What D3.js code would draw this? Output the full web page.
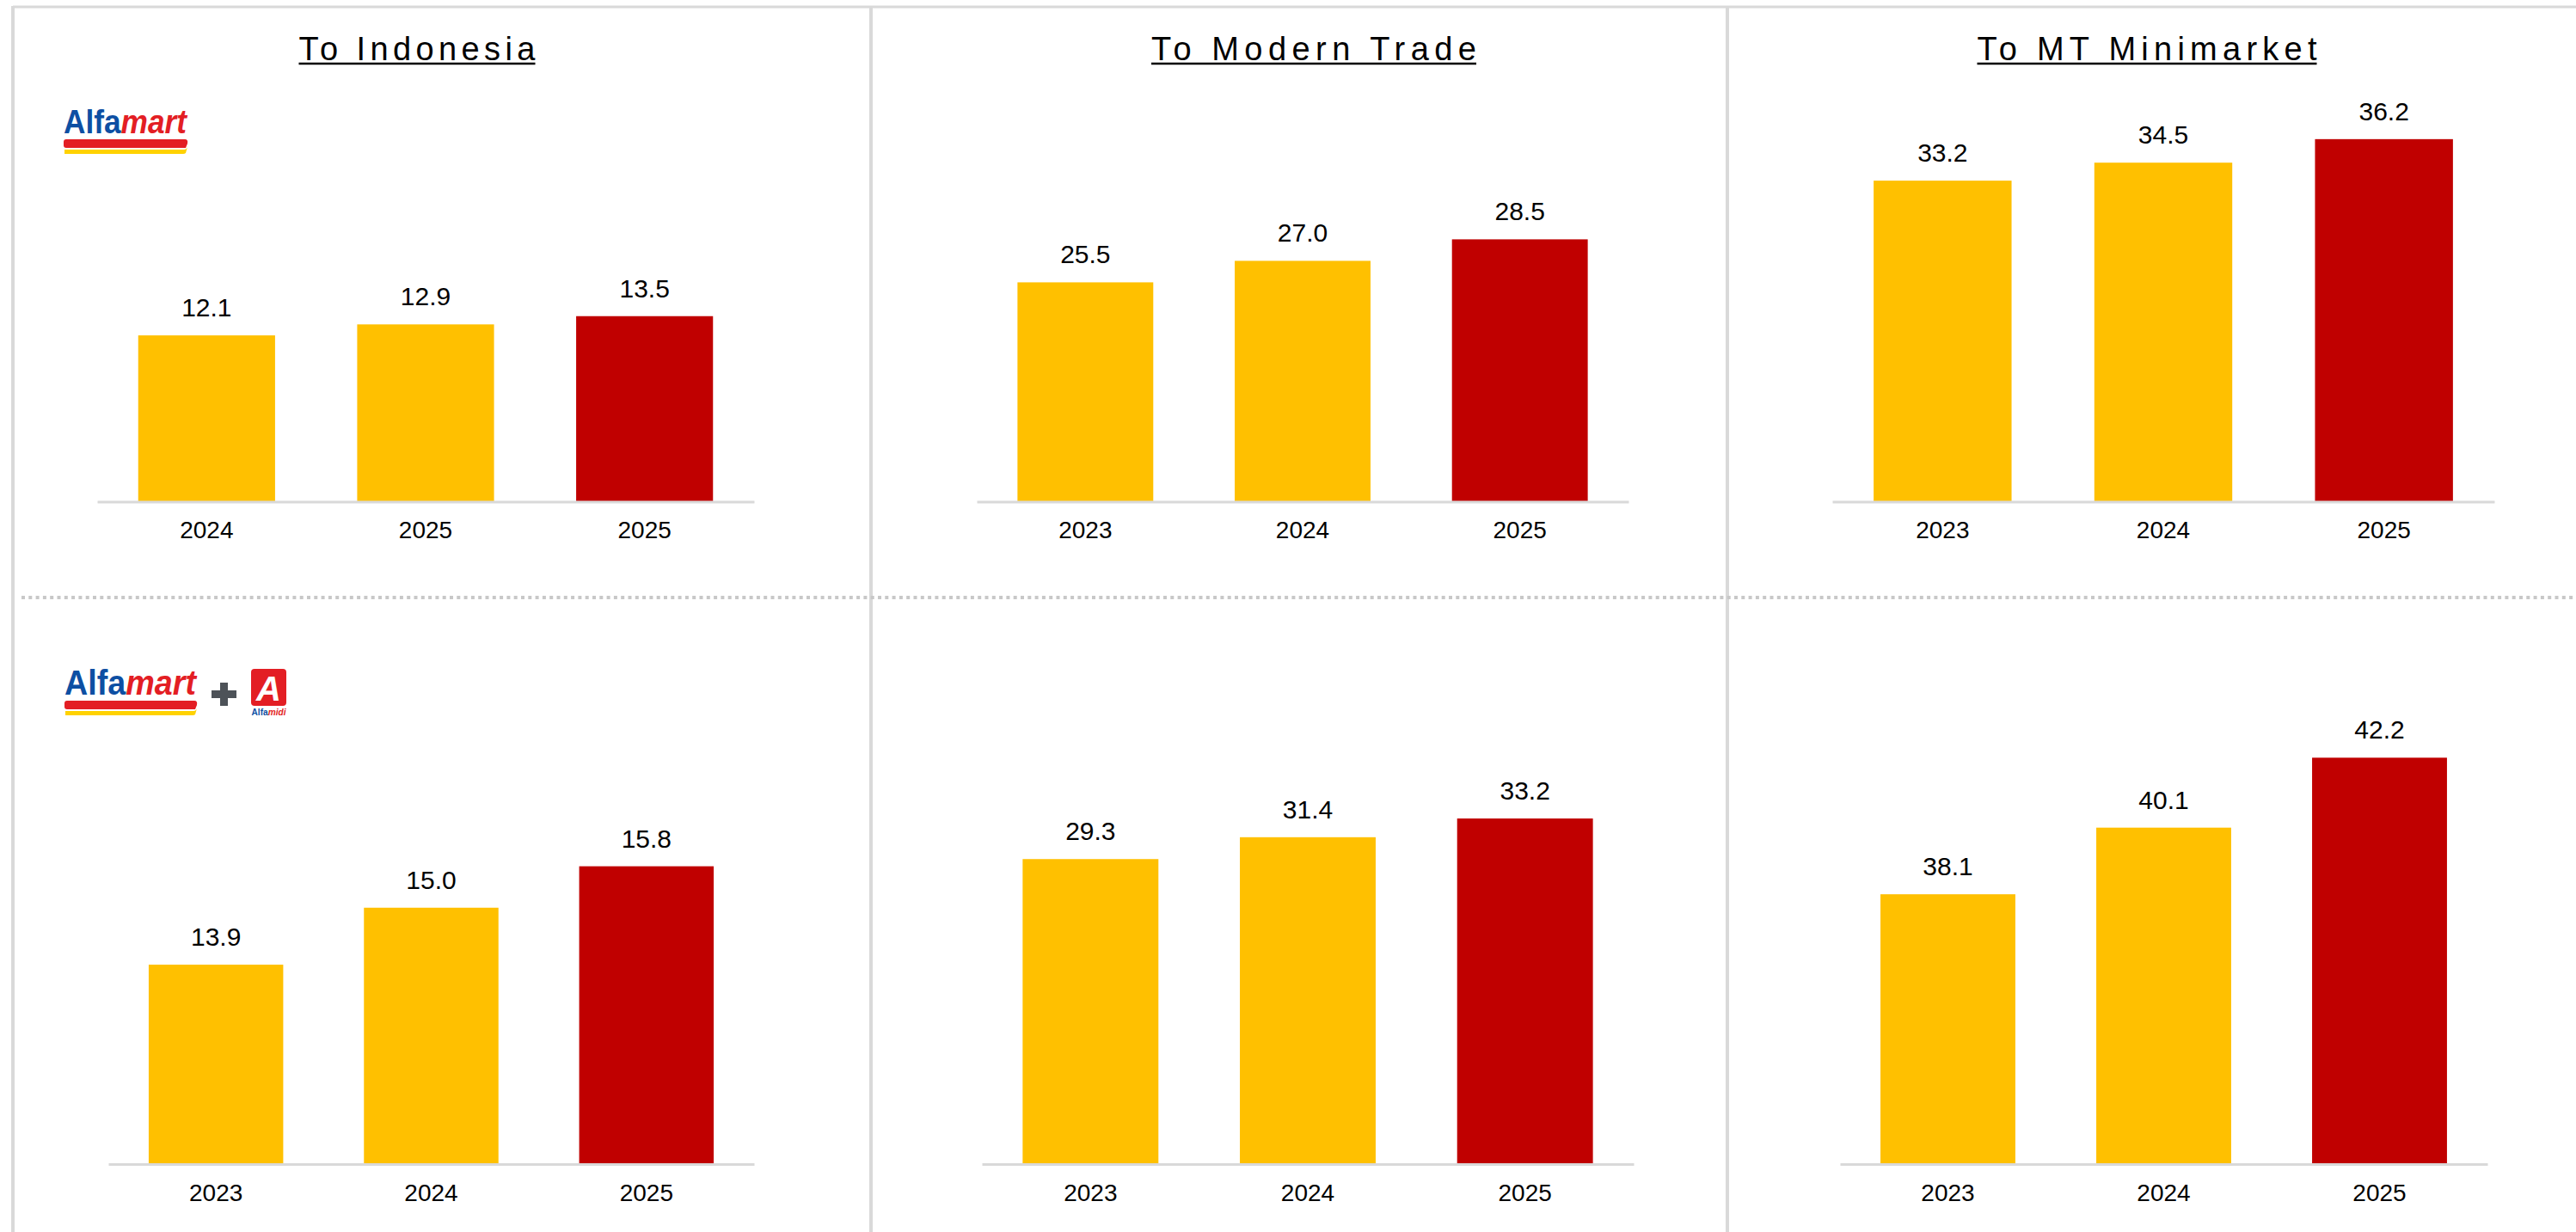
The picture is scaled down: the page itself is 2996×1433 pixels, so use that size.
<!DOCTYPE html>
<html>
<head>
<meta charset="utf-8">
<script src="https://cdn.jsdelivr.net/npm/d3@7"></script>
<style>
  html, body { margin: 0; padding: 0; background: #fff; }
  svg { display: block; }
</style>
</head>
<body>
<svg id="chart" width="2996" height="1433"></svg>
<script>
///// *** DATA *** /////
var titles = ['To Indonesia', 'To Modern Trade', 'To MT Minimarket'],
    yearsTopLeft = ['2024', '2025', '2025'],
    years = ['2023', '2024', '2025'],
    // row 1: Alfamart
    alfamartIndonesia = [12.1, 12.9, 13.5],
    alfamartModernTrade = [25.5, 27.0, 28.5],
    alfamartMinimarket = [33.2, 34.5, 36.2],
    // row 2: Alfamart + Alfamidi
    groupIndonesia = [13.9, 15.0, 15.8],
    groupModernTrade = [29.3, 31.4, 33.2],
    groupMinimarket = [38.1, 40.1, 42.2],
    // value axis bounds of each small chart (axes are hidden)
    axisMin = [0, 10.2, 10, 10.05, 0, 30],
    axisMax = [29, 38, 38.8, 18.25, 40.8, 42.75];

///// *** GLOBALS *** /////
var svg = d3.select('#chart'),
    yellow = '#FFC000',
    red = '#C00000',
    grey = '#d9d9d9',
    labelFont = '"Liberation Sans", Arial, sans-serif';

var panels = [
  {values: alfamartIndonesia, cats: yearsTopLeft, x0: 113, x1: 877, base: 583.5, top: 120},
  {values: alfamartModernTrade, cats: years, x0: 1136, x1: 1894, base: 583.5, top: 120},
  {values: alfamartMinimarket, cats: years, x0: 2131, x1: 2901, base: 583.5, top: 120},
  {values: groupIndonesia, cats: years, x0: 126, x1: 877, base: 1354, top: 860},
  {values: groupModernTrade, cats: years, x0: 1142, x1: 1900, base: 1354, top: 860},
  {values: groupMinimarket, cats: years, x0: 2140, x1: 2893, base: 1354, top: 860}
];

///// *** FRAME ** /////
svg.append('line').attr('x1', 15).attr('x2', 2996).attr('y1', 8).attr('y2', 8)
  .attr('stroke', grey).attr('stroke-width', 3);
[15, 1013, 2009].forEach(function(x){
  svg.append('line').attr('x1', x).attr('x2', x).attr('y1', 7).attr('y2', 1433)
    .attr('stroke', grey).attr('stroke-width', 4);
});
// dotted divider between the two rows
svg.append('line').attr('x1', 25).attr('x2', 2996).attr('y1', 695).attr('y2', 695)
  .attr('stroke', '#c8c8c8').attr('stroke-width', 4).attr('stroke-dasharray', '4 4.3');

///// *** TITLES ** /////
var titleX = [485, 1528, 2497],
    titleW = [275, 378, 395];
titles.forEach(function(t, i){
  svg.append('text')
    .attr('x', titleX[i] - titleW[i] / 2).attr('y', 70)
    .attr('font-family', labelFont)
    .attr('font-size', 38)
    .attr('textLength', titleW[i])
    .attr('lengthAdjust', 'spacing')
    .attr('fill', '#000')
    .text(t);
  svg.append('line')
    .attr('x1', titleX[i] - titleW[i] / 2).attr('x2', titleX[i] + titleW[i] / 2)
    .attr('y1', 74).attr('y2', 74)
    .attr('stroke', '#000').attr('stroke-width', 2.5);
});

///// *** CHARTS ** /////
panels.forEach(function(p, i){ drawPanel(p, i); });

function drawPanel(p, i){
  var x = d3.scaleBand()
    .domain(d3.range(p.values.length))
    .range([p.x0, p.x1])
    .paddingInner(0.375)
    .paddingOuter(0.1875);

  var y = d3.scaleLinear()
    .domain([axisMin[i], axisMax[i]])
    .range([p.base, p.top]);

  var g = svg.append('g');

  g.selectAll('rect')
    .data(p.values)
    .enter().append('rect')
    .attr('x', function(d, j){ return x(j); })
    .attr('width', x.bandwidth())
    .attr('y', function(d){ return y(d); })
    .attr('height', function(d){ return p.base - y(d); })
    .attr('fill', function(d, j){ return j === p.values.length - 1 ? red : yellow; });

  g.selectAll('text.val')
    .data(p.values)
    .enter().append('text')
    .attr('class', 'val')
    .attr('x', function(d, j){ return x(j) + x.bandwidth() / 2; })
    .attr('y', function(d){ return y(d) - 22; })
    .attr('text-anchor', 'middle')
    .attr('font-family', labelFont)
    .attr('font-size', 30)
    .attr('fill', '#000')
    .text(function(d){ return d.toFixed(1); });

  // category axis, its domain line is the grey base line
  var axis = d3.axisBottom(x)
    .tickSize(0)
    .tickSizeOuter(0)
    .tickPadding(23)
    .tickFormat(function(j){ return p.cats[j]; });

  var ag = g.append('g')
    .attr('transform', 'translate(0,' + p.base + ')')
    .call(axis);
  ag.select('.domain').attr('stroke', grey).attr('stroke-width', 3);
  ag.selectAll('text')
    .attr('font-family', labelFont)
    .attr('font-size', 28)
    .attr('fill', '#000');
}

///// *** LOGOS ** /////
function alfamartLogo(x, y, len, size){
  var lg = svg.append('g').attr('transform', 'translate(' + x + ',' + y + ')');
  var t = lg.append('text')
    .attr('x', 0).attr('y', 0)
    .attr('font-family', labelFont)
    .attr('font-weight', 'bold')
    .attr('font-size', size)
    .attr('textLength', len)
    .attr('lengthAdjust', 'spacingAndGlyphs');
  t.append('tspan').attr('fill', '#0d4fa3').text('Alfa');
  t.append('tspan').attr('fill', '#e31e24').attr('font-style', 'italic').text('mart');
  // red swoosh and yellow stripe under the word
  lg.append('path')
    .attr('d', 'M3,7 H' + (len - 2) + ' Q' + (len + 2) + ',7 ' + (len + 1) + ',12 L' + (len - 1) + ',17 H3 Q0,17 0,14 V10 Q0,7 3,7 Z')
    .attr('fill', '#e31e24');
  lg.append('path')
    .attr('d', 'M1,19 H' + (len - 3) + ' Q' + len + ',19 ' + (len + 1) + ',16 L' + (len - 1) + ',23 Q' + (len - 2) + ',24 ' + (len - 4) + ',24 H1 Z')
    .attr('fill', '#ffd200');
}

alfamartLogo(74, 155, 143, 38);
alfamartLogo(75, 808, 153, 40);

// plus sign
svg.append('rect').attr('x', 246).attr('y', 803).attr('width', 29).attr('height', 9).attr('fill', '#4d5258');
svg.append('rect').attr('x', 256).attr('y', 794).attr('width', 9).attr('height', 27).attr('fill', '#4d5258');

// Alfamidi mark
svg.append('rect').attr('x', 292).attr('y', 778).attr('width', 41).attr('height', 43)
  .attr('rx', 4).attr('fill', '#e31e24');
svg.append('text').attr('x', 312.5).attr('y', 815)
  .attr('text-anchor', 'middle')
  .attr('font-family', labelFont).attr('font-weight', 'bold').attr('font-style', 'italic')
  .attr('font-size', 40).attr('fill', '#fff').text('A');
var mid = svg.append('text').attr('x', 312.5).attr('y', 832)
  .attr('text-anchor', 'middle')
  .attr('font-family', labelFont).attr('font-weight', 'bold')
  .attr('font-size', 10).attr('textLength', 40).attr('lengthAdjust', 'spacingAndGlyphs');
mid.append('tspan').attr('fill', '#0d4fa3').text('Alfa');
mid.append('tspan').attr('fill', '#e31e24').attr('font-style', 'italic').text('midi');
</script>
</body>
</html>
